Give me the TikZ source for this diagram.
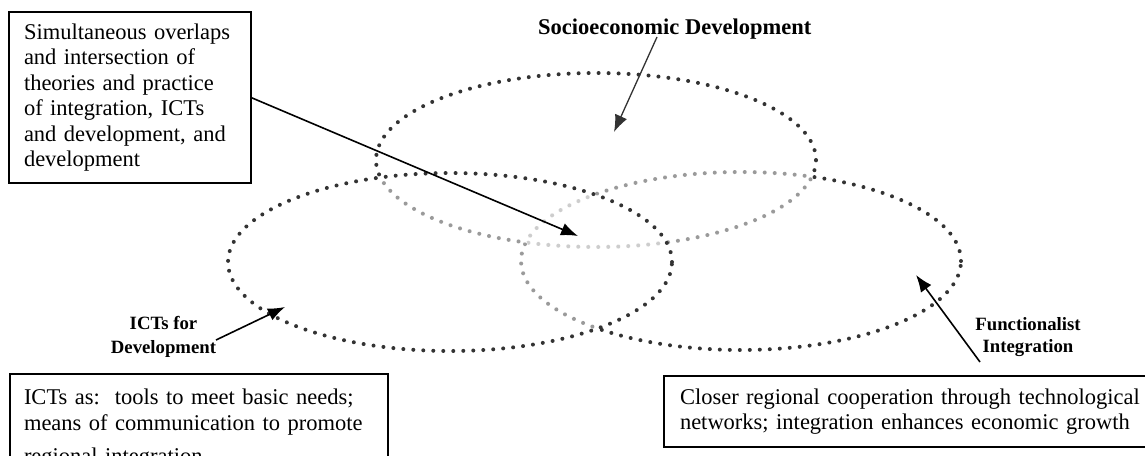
\documentclass[tikz,border=0pt]{standalone}
\usepackage{fontspec}
\setmainfont{Liberation Serif}
\usetikzlibrary{arrows.meta}
\definecolor{dotdark}{HTML}{333333}
\definecolor{dotmid}{HTML}{9A9A9A}
\definecolor{dotlight}{HTML}{CDCDCD}
\newcommand{\ellS}{(596,160) ellipse [x radius=220pt, y radius=87pt]}
\newcommand{\ellI}{(450,262) ellipse [x radius=222pt, y radius=89pt]}
\newcommand{\ellF}{(741,261) ellipse [x radius=220pt, y radius=89pt]}
\begin{document}
\begin{tikzpicture}[x=1pt,y=-1pt,
  dots/.style={line width=4pt, dash pattern=on 0pt off 10pt, line cap=round},
  dotsw/.style={dots, line width=5.2pt, white},
  textbox/.style={draw, line width=1.6pt, anchor=north west, align=left, outer sep=0pt,
    font=\fontsize{22.5}{25.4}\selectfont},
  lbl/.style={inner sep=0pt, font=\fontsize{18.75}{23}\selectfont\bfseries, align=center},
  conn/.style={line width=1.6pt, -{Latex[length=17pt,width=13pt]}}]
\useasboundingbox (0,0) rectangle (1145,455);
\clip (0,0) rectangle (1145,455);

% Socioeconomic ellipse
\draw[dots, dotdark] \ellS;
\begin{scope}\clip \ellI; \draw[dotsw] \ellS; \draw[dots, dotmid] \ellS;\end{scope}
\begin{scope}\clip \ellF; \draw[dotsw] \ellS; \draw[dots, dotmid] \ellS;\end{scope}
\begin{scope}\clip \ellI; \clip \ellF; \draw[dotsw] \ellS; \draw[dots, dotlight] \ellS;\end{scope}

% Functionalist ellipse
\draw[dots, dotdark] \ellF;
\begin{scope}\clip \ellI; \draw[dotsw] \ellF; \draw[dots, dotmid] \ellF;\end{scope}
\begin{scope}\clip \ellS; \draw[dotsw] \ellF; \draw[dots, dotmid] \ellF;\end{scope}
\begin{scope}\clip \ellI; \clip \ellS; \draw[dotsw] \ellF; \draw[dots, dotlight] \ellF;\end{scope}

% ICTs ellipse
\draw[dots, dotdark] \ellI;

% boxes
\node[textbox, minimum width=242pt, minimum height=171pt, text width=212pt, inner xsep=15pt] (box1) at (9,12)
  {Simultaneous overlaps\\and intersection of\\theories and practice\\of integration, ICTs\\and development, and\\development};
\node[textbox, text width=350pt, inner xsep=14pt, inner ysep=10.5pt, minimum height=110pt] (box2) at (10,374)
  {ICTs as:\ \ tools to meet basic needs;\\means of communication to promote\\[8pt]regional integration};
\node[textbox, text width=464pt, inner xsep=16pt, minimum height=71pt] (box3) at (664,376)
  {Closer regional cooperation through technological\\networks; integration enhances economic growth};

% labels
\node[lbl, font=\fontsize{22.5}{26}\selectfont\bfseries, anchor=base west] (lab1) at (538,34) {Socioeconomic Development};
\node[lbl, font=\fontsize{18.75}{24}\selectfont\bfseries] (lab2) at (163.5,337) {ICTs for\\Development};
\node[lbl, font=\fontsize{18.75}{22}\selectfont\bfseries] (lab3) at (1028,337) {Functionalist\\Integration};

% arrow ends
\coordinate (t1) at (578,236);
\coordinate (s2) at (657,37);
\coordinate (t2) at (614,132);
\coordinate (s3) at (216,340);
\coordinate (t3) at (285,307);
\coordinate (s4) at (980,362);
\coordinate (t4) at (916,275);

\draw[conn] (box1.east) -- (t1);
\draw[conn, dotdark, line width=1.3pt] (s2) -- (t2);
\draw[conn] (s3) -- (t3);
\draw[conn] (s4) -- (t4);
\end{tikzpicture}
\end{document}
